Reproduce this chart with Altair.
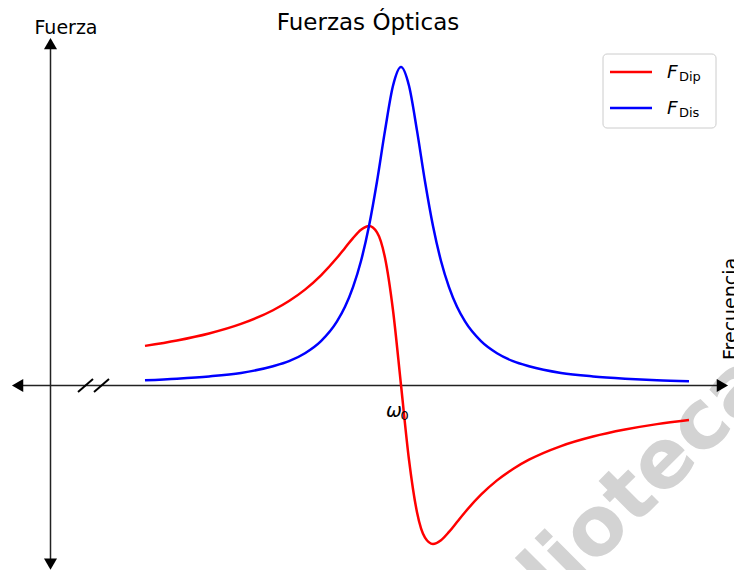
import altair as alt
import pandas as pd

# Detuning from the resonance (in units of the half linewidth) and forces (arb. units)
freq = [-8, -7, -6, -5, -4, -3.5, -3, -2.5, -2, -1.75, -1.5, -1.25, -1, -0.75, -0.5, -0.25,
        0, 0.25, 0.5, 0.75, 1, 1.25, 1.5, 1.75, 2, 2.5, 3, 3.5, 4, 5, 6, 7, 8, 9]
f_dip = [0.123, 0.140, 0.162, 0.192, 0.235, 0.264, 0.300, 0.345, 0.400, 0.431, 0.462, 0.488,
         0.500, 0.480, 0.400, 0.235, 0.0, -0.235, -0.400, -0.480, -0.500, -0.488, -0.462,
         -0.431, -0.400, -0.345, -0.300, -0.264, -0.235, -0.192, -0.162, -0.140, -0.123, -0.110]
f_dis = [0.015, 0.020, 0.027, 0.038, 0.059, 0.075, 0.100, 0.138, 0.200, 0.246, 0.308, 0.390,
         0.500, 0.640, 0.800, 0.941, 1.000, 0.941, 0.800, 0.640, 0.500, 0.390, 0.308, 0.246,
         0.200, 0.138, 0.100, 0.075, 0.059, 0.038, 0.027, 0.020, 0.015, 0.012]
series_names = ["Dip", "Dis"]
series_colors = ["#ff0000", "#0000ff"]

FONT = "DejaVu Sans"
W, H = 724, 562

rows = []
for name, vals in zip(series_names, [f_dip, f_dis]):
    for f, v in zip(freq, vals):
        rows.append({"freq": f, "force": v, "serie": name})
df = pd.DataFrame(rows)

one = pd.DataFrame({"a": [0]})

curves = alt.Chart(df).mark_line(strokeWidth=2.5, interpolate="monotone").encode(
    x=alt.X("freq:Q", scale=alt.Scale(domain=[-12.28125, 10.34375], nice=False, zero=False), axis=None),
    y=alt.Y("force:Q", scale=alt.Scale(domain=[-0.58176, 1.18553], nice=False, zero=False), axis=None),
    color=alt.Color("serie:N", scale=alt.Scale(domain=series_names, range=series_colors), legend=None),
    detail="serie:N",
)

base = alt.Chart(one)

watermark = base.mark_text(text="lioteca", font=FONT, fontWeight="bold", fontSize=82,
                           color="#d3d3d3", angle=315, align="left", baseline="alphabetic").encode(
    x=alt.value(546), y=alt.value(599))

axis_color = "#222222"
h_axis = base.mark_rule(color=axis_color, strokeWidth=1.5).encode(
    x=alt.value(10), x2=alt.value(712), y=alt.value(377.5))
v_axis = base.mark_rule(color=axis_color, strokeWidth=1.5).encode(
    x=alt.value(42.5), y=alt.value(37), y2=alt.value(551))

def arrow(shape, x, y):
    return base.mark_point(shape=shape, filled=True, size=170, color="black", opacity=1).encode(
        x=alt.value(x), y=alt.value(y))

arrows = [arrow("triangle-left", 9.6, 377.5), arrow("triangle-right", 714.4, 377.5),
          arrow("triangle-up", 42.5, 35.6), arrow("triangle-down", 42.5, 556.2)]

slash1 = base.mark_rule(color="black", strokeWidth=2).encode(
    x=alt.value(70), y=alt.value(384), x2=alt.value(85), y2=alt.value(371))
slash2 = base.mark_rule(color="black", strokeWidth=2).encode(
    x=alt.value(86), y=alt.value(384), x2=alt.value(101), y2=alt.value(371))

title = base.mark_text(text="Fuerzas Ópticas", font=FONT, fontSize=23, color="black",
                       align="center", baseline="alphabetic").encode(x=alt.value(360), y=alt.value(21.5))
ylab = base.mark_text(text="Fuerza", font=FONT, fontSize=19, color="black",
                      align="center", baseline="alphabetic").encode(x=alt.value(58), y=alt.value(26))
xlab = base.mark_text(text="Frecuencia", font=FONT, fontSize=19, color="black", angle=270,
                      align="left", baseline="alphabetic").encode(x=alt.value(729), y=alt.value(352))
omega = base.mark_text(text="ω", font=FONT, fontSize=19, fontStyle="italic", color="black",
                       align="left", baseline="alphabetic").encode(x=alt.value(378), y=alt.value(409))
omega0 = base.mark_text(text="0", font=FONT, fontSize=13, color="black",
                        align="left", baseline="alphabetic").encode(x=alt.value(392.5), y=alt.value(412))

legend_box = base.mark_rect(fill="white", stroke="#cccccc", strokeWidth=1, cornerRadius=4).encode(
    x=alt.value(595), x2=alt.value(708), y=alt.value(46), y2=alt.value(120))
leg_items = []
for i, (name, col) in enumerate(zip(series_names, series_colors)):
    yy = 64 + 36 * i
    leg_items.append(base.mark_rule(color=col, strokeWidth=2.5).encode(
        x=alt.value(602), x2=alt.value(644), y=alt.value(yy)))
    leg_items.append(base.mark_text(text="F", font=FONT, fontSize=18.5, fontStyle="italic", color="black",
                                    align="left", baseline="alphabetic").encode(
        x=alt.value(659), y=alt.value(yy + 6)))
    leg_items.append(base.mark_text(text=name, font=FONT, fontSize=13, color="black",
                                    align="left", baseline="alphabetic").encode(
        x=alt.value(671), y=alt.value(yy + 9)))

chart = alt.layer(
    watermark, h_axis, v_axis, *arrows, slash1, slash2, curves,
    title, ylab, xlab, omega, omega0, legend_box, *leg_items
).properties(
    width=W, height=H,
    autosize=alt.AutoSizeParams(type="none"),
    padding={"left": 0, "top": 0, "right": 2, "bottom": 0},
    background="white",
).configure_view(stroke=None)

chart.save("out.html", embed_options={"renderer": "svg", "actions": False})
